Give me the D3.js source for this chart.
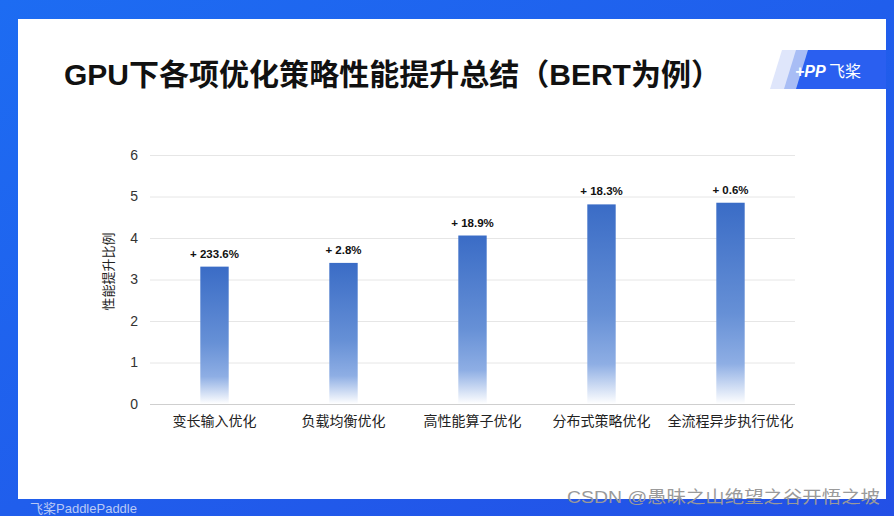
<!DOCTYPE html>
<html>
<head>
<meta charset="utf-8">
<script src="https://cdn.jsdelivr.net/npm/d3@7"></script>
<style>
  body { margin: 0; background: #1e5ff0; }
  svg { display: block; }
</style>
</head>
<body>
<div id="chart"></div>
<script>
'use strict';

// data
const categories = ['变长输入优化', '负载均衡优化', '高性能算子优化', '分布式策略优化', '全流程异步执行优化'];
const speedups = [3.31, 3.40, 4.06, 4.81, 4.85];
const gainLabels = ['+ 233.6%', '+ 2.8%', '+ 18.9%', '+ 18.3%', '+ 0.6%'];
const yTicks = [0, 1, 2, 3, 4, 5, 6];

const W = 894, H = 516;
const font = '"Liberation Sans", Arial, "Noto Sans CJK SC", sans-serif';

const svg = d3.select('#chart').append('svg')
    .attr('width', W)
    .attr('height', H);

const defs = svg.append('defs');

// blue frame background
const bg = defs.append('linearGradient').attr('id', 'bg')
    .attr('x1', 0).attr('y1', 0).attr('x2', 1).attr('y2', 1);
bg.append('stop').attr('offset', '0%').attr('stop-color', '#1d6cf2');
bg.append('stop').attr('offset', '100%').attr('stop-color', '#2350e6');

// bar fill: dark blue on top fading to white at the bottom
const barGrad = defs.append('linearGradient').attr('id', 'barGrad')
    .attr('x1', 0).attr('y1', 0).attr('x2', 0).attr('y2', 1);
barGrad.append('stop').attr('offset', '0%').attr('stop-color', '#3a6cc6');
barGrad.append('stop').attr('offset', '55%').attr('stop-color', '#6690d6');
barGrad.append('stop').attr('offset', '80%').attr('stop-color', '#8eaee4');
barGrad.append('stop').attr('offset', '100%').attr('stop-color', '#ffffff');

svg.append('rect')
    .attr('width', W).attr('height', H)
    .attr('fill', 'url(#bg)');

// white slide
svg.append('rect')
    .attr('x', 18).attr('y', 19)
    .attr('width', 868).attr('height', 480)
    .attr('fill', '#ffffff');

// faint watermark at the bottom left, below the slide
svg.append('text')
    .attr('x', 30).attr('y', 513)
    .attr('font-family', font)
    .attr('font-size', 13)
    .attr('fill', '#b9c9f5')
    .text('飞桨PaddlePaddle');

// title
svg.append('text')
    .attr('x', 64).attr('y', 85)
    .attr('font-family', font)
    .attr('font-size', 30)
    .attr('font-weight', 'bold')
    .attr('fill', '#111111')
    .attr('textLength', 657)
    .attr('lengthAdjust', 'spacingAndGlyphs')
    .text('GPU下各项优化策略性能提升总结（BERT为例）');

// logo tab in the top right corner
const logo = svg.append('g');
logo.append('polygon')
    .attr('points', '770,89 782,50 800,50 788,89')
    .attr('fill', '#dfe6fb');
logo.append('polygon')
    .attr('points', '784,89 796,50 812,50 800,89')
    .attr('fill', '#a8bdf5');
logo.append('polygon')
    .attr('points', '796,89 808,50 886,50 886,89')
    .attr('fill', '#2a5ff0');
logo.append('text')
    .attr('x', 795).attr('y', 77)
    .attr('font-family', font)
    .attr('font-size', 16)
    .attr('font-style', 'italic')
    .attr('font-weight', 'bold')
    .attr('fill', '#ffffff')
    .text('+PP');
logo.append('text')
    .attr('x', 829).attr('y', 77)
    .attr('font-family', font)
    .attr('font-size', 16)
    .attr('fill', '#ffffff')
    .text('飞桨');

// chart area
const margin = {top: 155, left: 150, right: 99, bottom: 112};
const width = W - margin.left - margin.right;
const height = H - margin.top - margin.bottom;

const g = svg.append('g')
    .attr('transform', 'translate(' + margin.left + ',' + margin.top + ')');

const x = d3.scaleBand()
    .domain(categories)
    .range([0, width])
    .paddingInner(0.78)
    .paddingOuter(0.39);

const y = d3.scaleLinear()
    .domain([0, 6])
    .range([height, 0]);

// gridlines + y tick labels
const yAxis = g.append('g')
    .call(d3.axisLeft(y).tickValues(yTicks).tickFormat(d3.format('d'))
        .tickSize(-width).tickPadding(12));
yAxis.select('.domain').remove();
yAxis.selectAll('.tick line')
    .attr('stroke', d => d === 0 ? '#cfcfcf' : '#e6e6e6');
yAxis.selectAll('.tick text')
    .attr('font-family', font)
    .attr('font-size', 14)
    .attr('fill', '#333333');

// bars
g.selectAll('.bar')
    .data(speedups)
    .enter().append('rect')
    .attr('class', 'bar')
    .attr('x', (d, i) => x(categories[i]))
    .attr('y', d => y(d))
    .attr('width', x.bandwidth())
    .attr('height', d => height - y(d))
    .attr('fill', 'url(#barGrad)');

// gain labels above bars
g.selectAll('.gain')
    .data(speedups)
    .enter().append('text')
    .attr('class', 'gain')
    .attr('x', (d, i) => x(categories[i]) + x.bandwidth() / 2)
    .attr('y', d => y(d) - 9)
    .attr('text-anchor', 'middle')
    .attr('font-family', font)
    .attr('font-size', 11.5)
    .attr('font-weight', 'bold')
    .attr('fill', '#111111')
    .text((d, i) => gainLabels[i]);

// x labels
const xAxis = g.append('g')
    .attr('transform', 'translate(0,' + height + ')')
    .call(d3.axisBottom(x).tickSize(0).tickPadding(12));
xAxis.select('.domain').remove();
xAxis.selectAll('.tick text')
    .attr('font-family', font)
    .attr('font-size', 14)
    .attr('fill', '#222222');

// y axis title
svg.append('text')
    .attr('transform', 'translate(113,' + (margin.top + height / 2 - 8) + ') rotate(-90)')
    .attr('text-anchor', 'middle')
    .attr('font-family', font)
    .attr('font-size', 13)
    .attr('fill', '#222222')
    .text('性能提升比例');

// csdn watermark
svg.append('text')
    .attr('x', 567).attr('y', 503)
    .attr('font-family', font)
    .attr('font-size', 17)
    .attr('fill', '#9a9a9a')
    .attr('textLength', 313)
    .attr('lengthAdjust', 'spacingAndGlyphs')
    .text('CSDN @愚昧之山绝望之谷开悟之坡');
</script>
</body>
</html>
